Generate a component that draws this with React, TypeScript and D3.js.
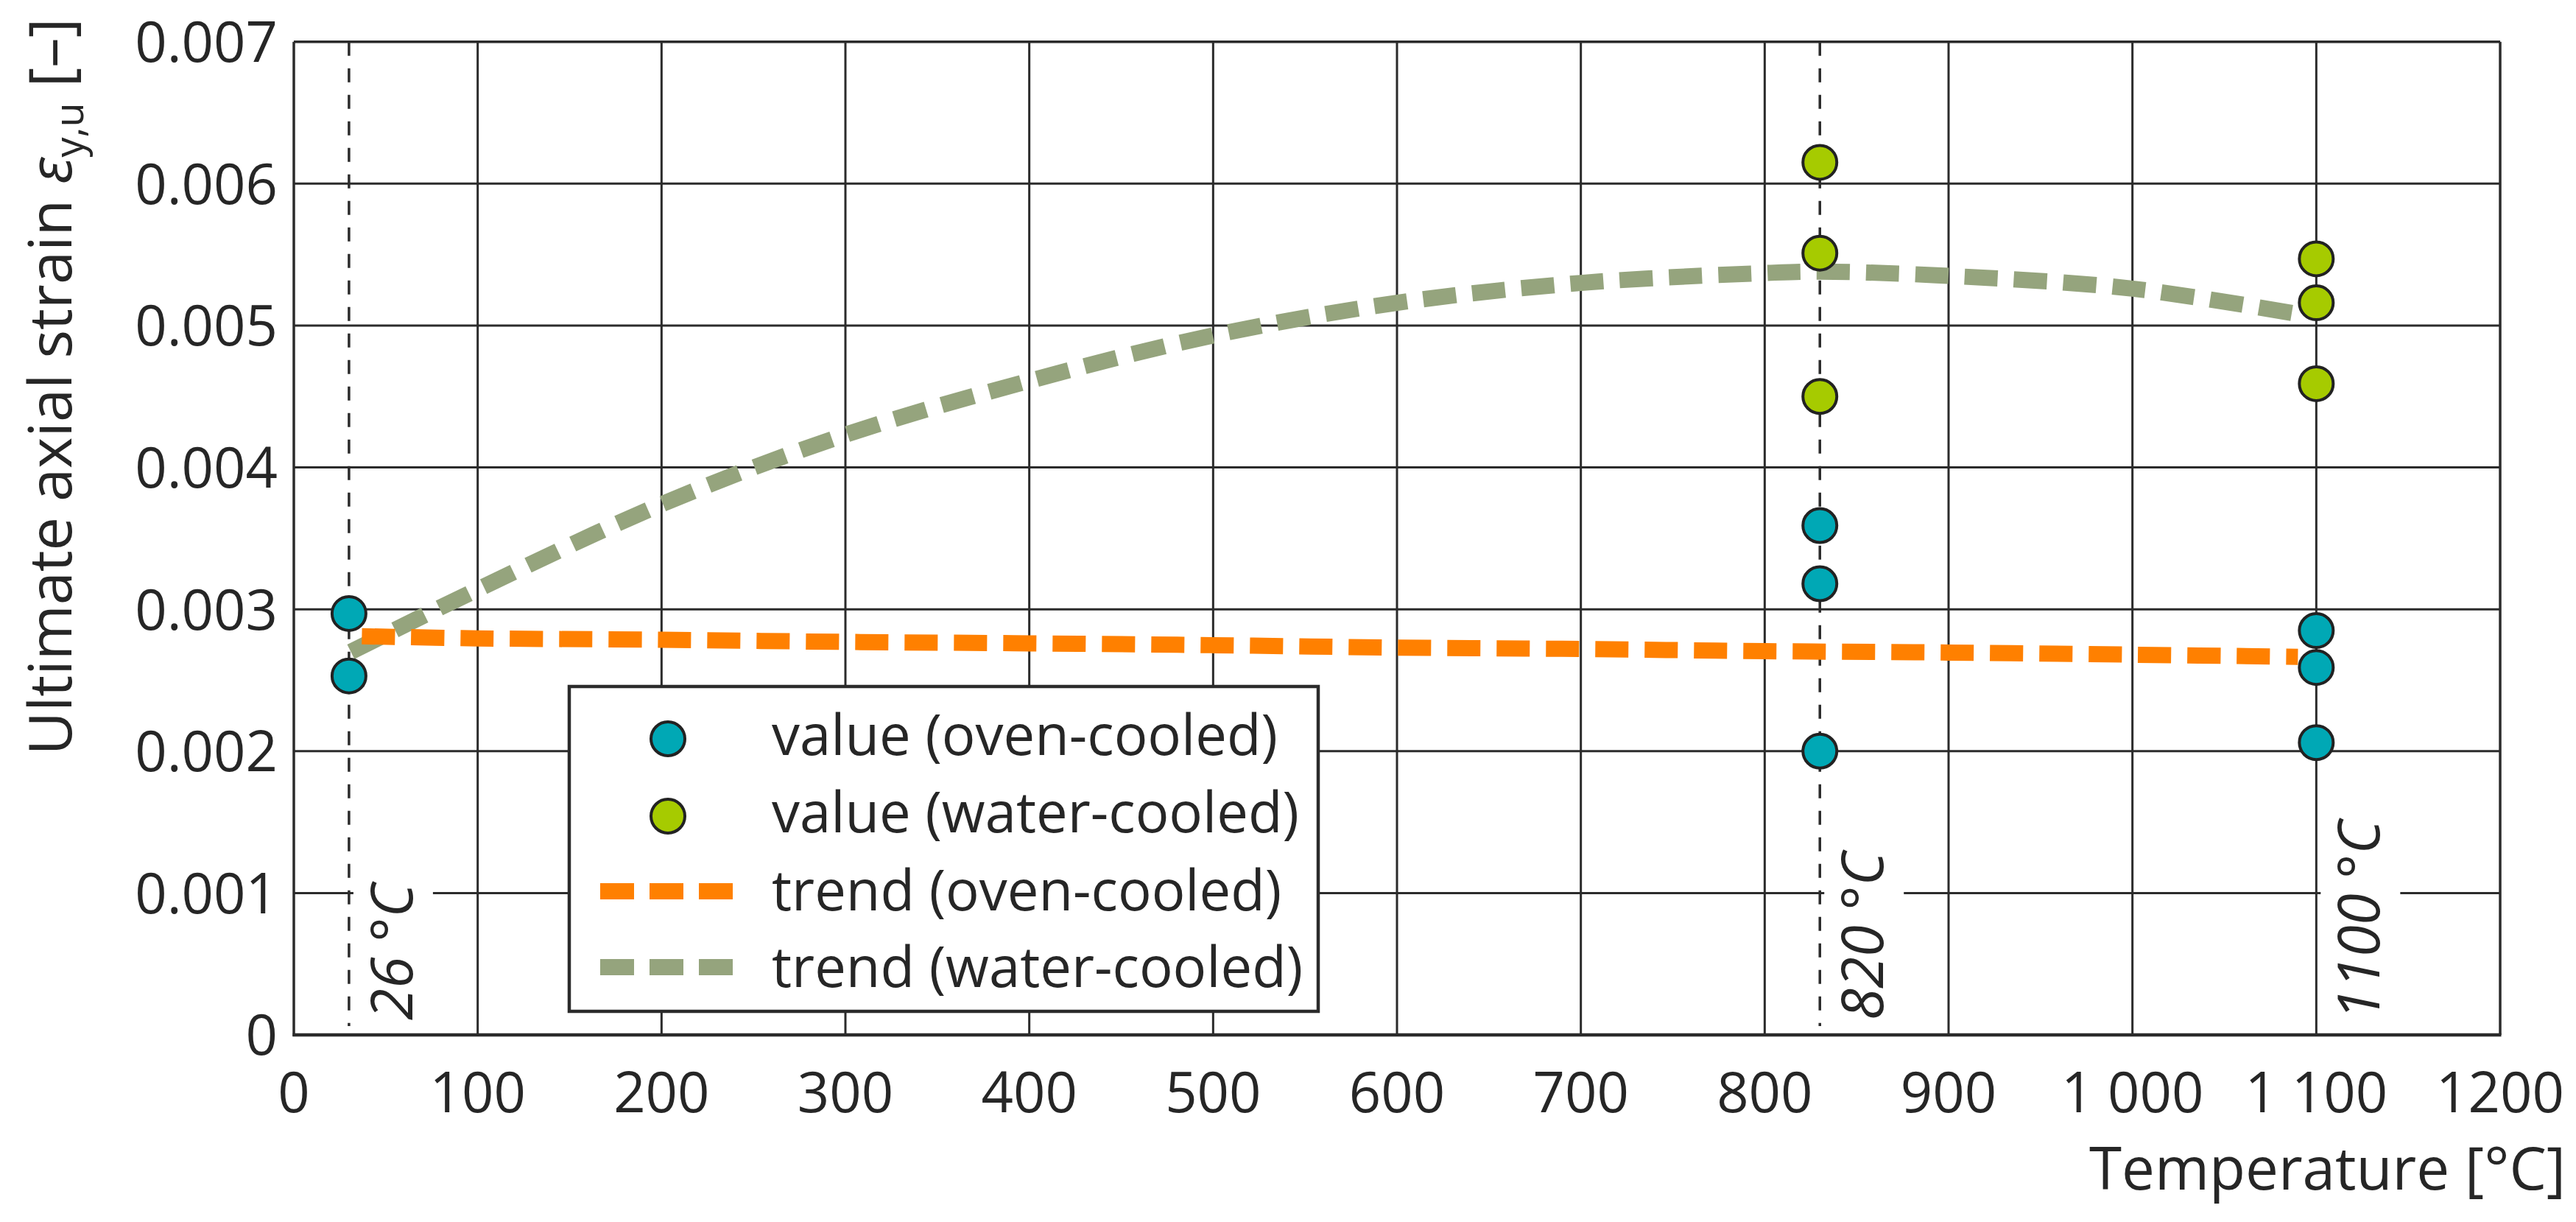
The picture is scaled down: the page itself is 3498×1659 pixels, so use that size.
import React, { useEffect, useRef } from "react";
import * as d3 from "d3";

// ---- data ----
const ovenTemp = [30, 30, 830, 830, 830, 1100, 1100, 1100];
const ovenStrain = [0.00297, 0.00253, 0.00359, 0.00318, 0.002, 0.00285, 0.00259, 0.00206];
const waterTemp = [830, 830, 830, 1100, 1100, 1100];
const waterStrain = [0.00615, 0.00551, 0.0045, 0.00547, 0.00516, 0.00459];

const ovenTrendTemp = [37, 100, 200, 300, 400, 500, 600, 700, 800, 900, 1000, 1090];
const ovenTrendStrain = [0.00281, 0.002795, 0.002785, 0.00277, 0.00276, 0.002747, 0.00273, 0.00272, 0.002705, 0.002695, 0.00268, 0.002665];
const waterTrendTemp = [31, 100, 200, 300, 400, 500, 600, 700, 800, 830, 900, 1000, 1095];
const waterTrendStrain = [0.0027, 0.00314, 0.00374, 0.00423, 0.00461, 0.00493, 0.00516, 0.0053, 0.00537, 0.00538, 0.00535, 0.00526, 0.00507];

const markerTemps = [30, 830, 1100];
const markerLabels = ["26 °C", "820 °C", "1100 °C"];
const markerDashed = [true, true, false];

const xTicks = [0, 100, 200, 300, 400, 500, 600, 700, 800, 900, 1000, 1100, 1200];
const xTickLabels = ["0", "100", "200", "300", "400", "500", "600", "700", "800", "900", "1 000", "1 100", "1200"];
const yTicks = [0, 0.001, 0.002, 0.003, 0.004, 0.005, 0.006, 0.007];
const yTickLabels = ["0", "0.001", "0.002", "0.003", "0.004", "0.005", "0.006", "0.007"];

const legendLabels = ["value (oven-cooled)", "value (water-cooled)", "trend (oven-cooled)", "trend (water-cooled)"];

const W = 3498;
const H = 1659;
const FONT = "'Open Sans', 'DejaVu Sans', sans-serif";
const INK = "#262626";
const GRID = "#2b2b2b";
const TEAL = "#00a8b5";
const LIME = "#a6cb00";
const ORANGE = "#ff8000";
const SAGE = "#95a47d";

export default function App() {
  const ref = useRef<SVGSVGElement | null>(null);

  useEffect(() => {
    const svg = d3.select(ref.current);
    svg.selectAll("*").remove();

    const L = 399, R = 3395, T = 56.7, B = 1405;
    const x = d3.scaleLinear().domain([0, 1200]).range([L, R]);
    const y = d3.scaleLinear().domain([0, 0.007]).range([B, T]);

    svg.append("rect").attr("width", W).attr("height", H).attr("fill", "#fff");

    // grid
    const g = svg.append("g");
    g.selectAll("line.vg")
      .data(xTicks.slice(1, -1))
      .join("line")
      .attr("x1", (d) => x(d)).attr("x2", (d) => x(d))
      .attr("y1", T).attr("y2", B)
      .attr("stroke", GRID).attr("stroke-width", 3);
    g.selectAll("line.hg")
      .data(yTicks.slice(1, -1))
      .join("line")
      .attr("x1", L).attr("x2", R)
      .attr("y1", (d) => y(d)).attr("y2", (d) => y(d))
      .attr("stroke", GRID).attr("stroke-width", 3);

    // frame
    g.append("line").attr("x1", L).attr("x2", R).attr("y1", T).attr("y2", T).attr("stroke", GRID).attr("stroke-width", 3.5);
    g.append("line").attr("x1", R).attr("x2", R).attr("y1", T).attr("y2", B).attr("stroke", GRID).attr("stroke-width", 3.5);
    g.append("line").attr("x1", L).attr("x2", L).attr("y1", T).attr("y2", B + 2).attr("stroke", GRID).attr("stroke-width", 3.5);
    g.append("line").attr("x1", L - 1.5).attr("x2", R + 1.5).attr("y1", B).attr("y2", B).attr("stroke", GRID).attr("stroke-width", 4.5);

    // temperature markers (white box + dashed line + italic rotated label)
    markerTemps.forEach((t, i) => {
      const xl = x(t);
      const bx = xl + 86;
      const by = 1385;
      const txt = svg.append("text")
        .attr("transform", `translate(${bx},${by}) rotate(-90)`)
        .attr("font-family", FONT).attr("font-style", "italic")
        .attr("font-size", 78).attr("fill", INK)
        .text(markerLabels[i]);
      const len = (txt.node() as SVGTextElement).getComputedTextLength();
      svg.insert("rect", () => txt.node() as any)
        .attr("x", xl + 6).attr("width", 108)
        .attr("y", by - len - 12).attr("height", len + 20)
        .attr("fill", "#fff");
      if (markerDashed[i]) {
        svg.insert("line", () => txt.node() as any)
          .attr("x1", xl).attr("x2", xl).attr("y1", T).attr("y2", 1393)
          .attr("stroke", GRID).attr("stroke-width", 3.5)
          .attr("stroke-dasharray", "19 17");
      }
    });

    // trend lines
    const line = d3.line<[number, number]>()
      .x((d) => x(d[0])).y((d) => y(d[1]))
      .curve(d3.curveCatmullRom.alpha(0.5));
    svg.append("path")
      .attr("d", line(waterTrendTemp.map((t, i) => [t, waterTrendStrain[i]]) as [number, number][]))
      .attr("fill", "none").attr("stroke", SAGE).attr("stroke-width", 22)
      .attr("stroke-dasharray", "45 22");
    svg.append("path")
      .attr("d", line(ovenTrendTemp.map((t, i) => [t, ovenTrendStrain[i]]) as [number, number][]))
      .attr("fill", "none").attr("stroke", ORANGE).attr("stroke-width", 22)
      .attr("stroke-dasharray", "45 22");

    // points
    svg.append("g").selectAll("circle")
      .data(ovenTemp.map((t, i) => [t, ovenStrain[i]]))
      .join("circle")
      .attr("cx", (d) => x(d[0])).attr("cy", (d) => y(d[1])).attr("r", 23)
      .attr("fill", TEAL).attr("stroke", "#222").attr("stroke-width", 4);
    svg.append("g").selectAll("circle")
      .data(waterTemp.map((t, i) => [t, waterStrain[i]]))
      .join("circle")
      .attr("cx", (d) => x(d[0])).attr("cy", (d) => y(d[1])).attr("r", 23)
      .attr("fill", LIME).attr("stroke", "#222").attr("stroke-width", 4);

    // legend
    const lg = svg.append("g");
    lg.append("rect").attr("x", 773).attr("y", 932).attr("width", 1017).attr("height", 441)
      .attr("fill", "#fff").attr("stroke", GRID).attr("stroke-width", 4.5);
    const rowY = [1003, 1108, 1210, 1313];
    const baseY = [1025, 1130, 1236, 1340];
    lg.append("circle").attr("cx", 907).attr("cy", rowY[0]).attr("r", 23).attr("fill", TEAL).attr("stroke", "#222").attr("stroke-width", 4);
    lg.append("circle").attr("cx", 907).attr("cy", rowY[1]).attr("r", 23).attr("fill", LIME).attr("stroke", "#222").attr("stroke-width", 4);
    lg.append("line").attr("x1", 815).attr("x2", 995).attr("y1", rowY[2]).attr("y2", rowY[2])
      .attr("stroke", ORANGE).attr("stroke-width", 22).attr("stroke-dasharray", "46 21");
    lg.append("line").attr("x1", 815).attr("x2", 995).attr("y1", rowY[3]).attr("y2", rowY[3])
      .attr("stroke", SAGE).attr("stroke-width", 22).attr("stroke-dasharray", "46 21");
    lg.selectAll("text.l").data(legendLabels).join("text")
      .attr("x", 1048).attr("y", (_, i) => baseY[i])
      .attr("font-family", FONT).attr("font-size", 76).attr("fill", INK)
      .text((d) => d);

    // tick labels
    svg.append("g").selectAll("text").data(yTicks).join("text")
      .attr("x", 377).attr("y", (d) => y(d)).attr("dy", "0.36em")
      .attr("text-anchor", "end")
      .attr("font-family", FONT).attr("font-size", 76).attr("fill", INK)
      .text((_, i) => yTickLabels[i]);
    svg.append("g").selectAll("text").data(xTicks).join("text")
      .attr("x", (d) => x(d)).attr("y", 1510)
      .attr("text-anchor", "middle")
      .attr("font-family", FONT).attr("font-size", 76).attr("fill", INK)
      .text((_, i) => xTickLabels[i]);

    // axis titles
    svg.append("text")
      .attr("x", 3484).attr("y", 1615).attr("text-anchor", "end")
      .attr("font-family", FONT).attr("font-size", 80).attr("fill", INK)
      .text("Temperature [°C]");
    const yt = svg.append("text")
      .attr("transform", "translate(97,525) rotate(-90)")
      .attr("text-anchor", "middle")
      .attr("font-family", FONT).attr("font-size", 81).attr("fill", INK);
    yt.append("tspan").text("Ultimate axial strain ");
    yt.append("tspan").attr("font-style", "italic").text("ε");
    yt.append("tspan").attr("font-size", 54).attr("dy", 16).text("y,u");
    yt.append("tspan").attr("dy", -16).text(" [–]");
  }, []);

  return (
    <svg
      ref={ref}
      width={W}
      height={H}
      viewBox={`0 0 ${W} ${H}`}
      style={{ position: "absolute", left: 0, top: 0, display: "block" }}
    />
  );
}
